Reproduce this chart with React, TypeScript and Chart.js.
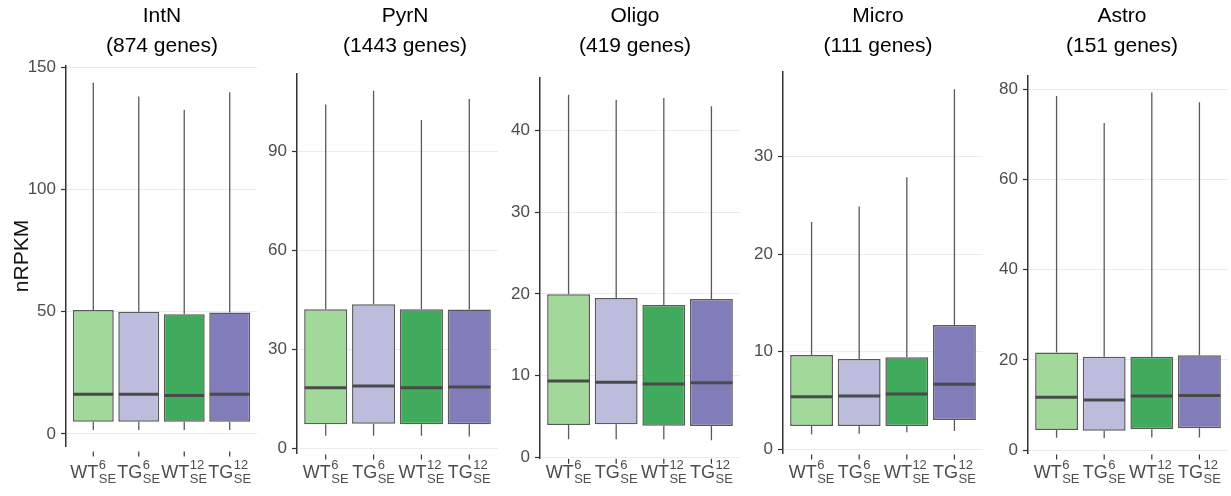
import React, { useEffect, useRef } from "react";
import { Chart, registerables } from "chart.js";

Chart.register(...registerables);

// ---------- data ----------
const cellTypes = ["IntN", "PyrN", "Oligo", "Micro", "Astro"];
const geneCounts = [874, 1443, 419, 111, 151];
const genotypes = ["WT", "TG", "WT", "TG"];
const ages = ["6", "6", "12", "12"];
const condition = "SE";

// box statistics per cell type: [WT6, TG6, WT12, TG12]
const intnLow = [1.6, 1.6, 1.6, 1.6];
const intnQ1 = [5.0, 5.0, 5.0, 5.0];
const intnMed = [16.2, 16.2, 15.7, 16.2];
const intnQ3 = [50.7, 50.0, 48.9, 49.7];
const intnHigh = [143.6, 137.9, 132.5, 139.7];

const pyrnLow = [3.8, 3.8, 3.8, 3.6];
const pyrnQ1 = [7.3, 7.4, 7.3, 7.3];
const pyrnMed = [18.4, 18.9, 18.4, 18.6];
const pyrnQ3 = [42.2, 43.7, 42.2, 42.1];
const pyrnHigh = [104.3, 108.5, 99.6, 106.0];

const oligoLow = [2.2, 2.2, 2.2, 2.1];
const oligoQ1 = [3.96, 4.04, 3.87, 3.83];
const oligoMed = [9.35, 9.2, 8.98, 9.14];
const oligoQ3 = [19.96, 19.5, 18.65, 19.4];
const oligoHigh = [44.4, 43.8, 44.0, 43.0];

const microLow = [1.54, 1.6, 1.74, 1.88];
const microQ1 = [2.39, 2.39, 2.39, 3.0];
const microMed = [5.39, 5.46, 5.67, 6.66];
const microQ3 = [9.67, 9.26, 9.43, 12.74];
const microHigh = [23.3, 24.9, 27.9, 36.9];

const astroLow = [2.7, 2.6, 2.8, 2.8];
const astroQ1 = [4.44, 4.3, 4.6, 4.8];
const astroMed = [11.7, 11.1, 12.0, 12.1];
const astroQ3 = [21.6, 20.7, 20.7, 21.0];
const astroHigh = [78.5, 72.5, 79.3, 77.1];

const lows = [intnLow, pyrnLow, oligoLow, microLow, astroLow];
const q1s = [intnQ1, pyrnQ1, oligoQ1, microQ1, astroQ1];
const meds = [intnMed, pyrnMed, oligoMed, microMed, astroMed];
const q3s = [intnQ3, pyrnQ3, oligoQ3, microQ3, astroQ3];
const highs = [intnHigh, pyrnHigh, oligoHigh, microHigh, astroHigh];

// axis ticks and ranges
const intnTicks = [0, 50, 100, 150];
const pyrnTicks = [0, 30, 60, 90];
const oligoTicks = [0, 10, 20, 30, 40];
const microTicks = [0, 10, 20, 30];
const astroTicks = [0, 20, 40, 60, 80];
const yTicks = [intnTicks, pyrnTicks, oligoTicks, microTicks, astroTicks];
const yMins = [-5.2, -1.5, -0.1, -0.4, -0.75];
const yMaxs = [150.7, 113.7, 46.5, 38.67, 83.1];
const yTitle = "nRPKM";

// ---------- layout & style ----------
const W = 1231;
const H = 496;
const FONT = "'Liberation Sans', Arial, Helvetica, sans-serif";
const boxColors = ["#a1d99b", "#bcbddc", "#41ab5d", "#807dba"];
const LABEL_BASE = 477.5;

const layouts = [
  { canvasLeft: 0, canvasWidth: 262, plotLeft: 66, plotRight: 257, plotTop: 65.3, plotBottom: 446.7, titleX: 162, tickTop: 451.5 },
  { canvasLeft: 262, canvasWidth: 243, plotLeft: 297, plotRight: 498, plotTop: 73.6, plotBottom: 453.2, titleX: 405, tickTop: 454.5 },
  { canvasLeft: 505, canvasWidth: 241, plotLeft: 540, plotRight: 740, plotTop: 77.6, plotBottom: 458.1, titleX: 635, tickTop: 458.8 },
  { canvasLeft: 746, canvasWidth: 244, plotLeft: 783, plotRight: 983, plotTop: 72.1, plotBottom: 453.2, titleX: 878, tickTop: 454.5 },
  { canvasLeft: 990, canvasWidth: 241, plotLeft: 1028, plotRight: 1228, plotTop: 75.3, plotBottom: 453.4, titleX: 1122, tickTop: 454.5 },
];

function Panel({ idx }: { idx: number }) {
  const ref = useRef<HTMLCanvasElement | null>(null);
  const L = layouts[idx];

  useEffect(() => {
    if (!ref.current) return;
    const low = lows[idx];
    const q1 = q1s[idx];
    const med = meds[idx];
    const q3 = q3s[idx];
    const high = highs[idx];

    const extras = {
      id: "boxExtras",
      beforeDatasetsDraw(chart: any) {
        const ctx = chart.ctx;
        const ys = chart.scales.y;
        const meta = chart.getDatasetMeta(0);
        ctx.save();
        ctx.strokeStyle = "#5a5a5a";
        ctx.lineWidth = 1.3;
        meta.data.forEach((el: any, i: number) => {
          const x = el.x;
          ctx.beginPath();
          ctx.moveTo(x, ys.getPixelForValue(q3[i]));
          ctx.lineTo(x, ys.getPixelForValue(high[i]));
          ctx.moveTo(x, ys.getPixelForValue(q1[i]));
          ctx.lineTo(x, ys.getPixelForValue(low[i]));
          ctx.stroke();
        });
        ctx.restore();
      },
      afterDatasetsDraw(chart: any) {
        const ctx = chart.ctx;
        const ys = chart.scales.y;
        const meta = chart.getDatasetMeta(0);
        ctx.save();
        ctx.strokeStyle = "#4a4a4a";
        ctx.lineWidth = 3;
        meta.data.forEach((el: any, i: number) => {
          const y = ys.getPixelForValue(med[i]);
          ctx.beginPath();
          ctx.moveTo(el.x - el.width / 2 + 0.5, y);
          ctx.lineTo(el.x + el.width / 2 - 0.5, y);
          ctx.stroke();
        });
        ctx.restore();
      },
      afterDraw(chart: any) {
        const ctx = chart.ctx;
        const xs = chart.scales.x;
        ctx.save();
        // title
        ctx.fillStyle = "#000";
        ctx.textAlign = "center";
        ctx.textBaseline = "middle";
        ctx.font = `21px ${FONT}`;
        const tx = L.titleX - L.canvasLeft;
        ctx.fillText(cellTypes[idx], tx, 16);
        ctx.fillText(`(${geneCounts[idx]} genes)`, tx, 46);
        // x tick marks and labels
        ctx.strokeStyle = "#333";
        ctx.lineWidth = 1.2;
        ctx.textAlign = "left";
        ctx.textBaseline = "alphabetic";
        ctx.fillStyle = "#4d4d4d";
        genotypes.forEach((g, i) => {
          const cx = xs.getPixelForValue(i);
          ctx.beginPath();
          ctx.moveTo(cx, L.tickTop);
          ctx.lineTo(cx, L.tickTop + 5);
          ctx.stroke();
          ctx.font = `18px ${FONT}`;
          const mw = ctx.measureText(g).width;
          ctx.font = `13px ${FONT}`;
          const supW = ctx.measureText(ages[i]).width;
          const subW = ctx.measureText(condition).width;
          const total = mw + 0.5 + Math.max(supW, subW);
          const sx = cx - total / 2;
          ctx.font = `18px ${FONT}`;
          ctx.fillText(g, sx, LABEL_BASE);
          ctx.font = `13px ${FONT}`;
          ctx.fillText(ages[i], sx + mw + 0.5, LABEL_BASE - 9);
          ctx.fillText(condition, sx + mw + 0.5, LABEL_BASE + 5);
        });
        ctx.restore();
      },
    };

    const chart = new Chart(ref.current, {
      type: "bar",
      data: {
        datasets: [
          {
            data: genotypes.map((_, i) => ({ x: i, y: [q1[i], q3[i]] })) as any,
            backgroundColor: boxColors,
            borderColor: "#5a5a5a",
            borderWidth: 1.5,
            borderSkipped: false,
            barPercentage: 0.9,
            categoryPercentage: 1,
          },
        ],
      },
      options: {
        animation: false,
        responsive: false,
        events: [],
        layout: {
          padding: {
            left: 0,
            right: L.canvasLeft + L.canvasWidth - L.plotRight,
            top: L.plotTop,
            bottom: H - L.plotBottom,
          },
        },
        plugins: {
          legend: { display: false },
          tooltip: { enabled: false },
          title: { display: false },
        },
        scales: {
          x: {
            type: "linear",
            display: false,
            offset: false,
            bounds: "data",
            min: -0.6,
            max: 3.6,
            grid: { offset: false },
            afterBuildTicks: (s: any) => {
              s.ticks = genotypes.map((_, i) => ({ value: i }));
            },
          },
          y: {
            type: "linear",
            bounds: "data",
            min: yMins[idx],
            max: yMaxs[idx],
            afterBuildTicks: (s: any) => {
              s.ticks = yTicks[idx].map((v) => ({ value: v }));
            },
            afterFit: (s: any) => {
              s.width = L.plotLeft - L.canvasLeft;
            },
            ticks: {
              font: { family: FONT, size: 17 },
              color: "#4d4d4d",
              padding: 5,
            },
            grid: {
              color: "#ebebeb",
              lineWidth: 1,
              tickColor: "#333",
              tickLength: 5,
              tickWidth: 1.2,
            },
            border: { display: true, color: "#333", width: 1.5 },
            title:
              idx === 0
                ? {
                    display: true,
                    text: yTitle,
                    font: { family: FONT, size: 21 },
                    color: "#111",
                    padding: { top: 10, bottom: 0 },
                  }
                : { display: false },
          },
        },
      } as any,
      plugins: [extras],
    });
    return () => chart.destroy();
  }, [idx]);

  return (
    <canvas
      ref={ref}
      width={L.canvasWidth}
      height={H}
      style={{ position: "absolute", left: L.canvasLeft, top: 0, width: L.canvasWidth, height: H }}
    />
  );
}

export default function App() {
  return (
    <div style={{ position: "absolute", left: 0, top: 0, width: W, height: H, background: "#fff", overflow: "hidden" }}>
      {cellTypes.map((_, i) => (
        <Panel key={i} idx={i} />
      ))}
    </div>
  );
}
